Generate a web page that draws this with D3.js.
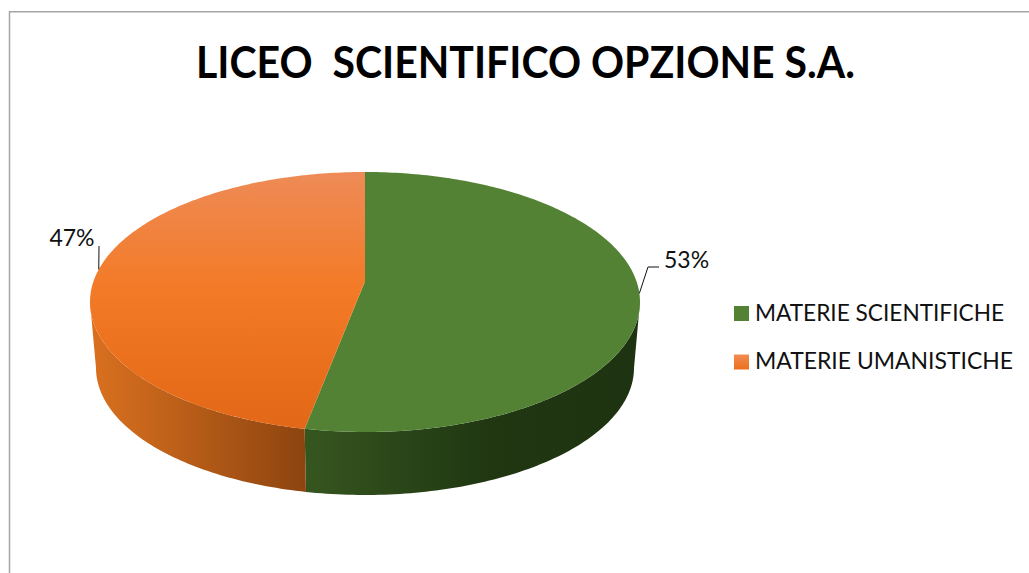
<!DOCTYPE html>
<html lang="it">
<head>
    <meta charset="UTF-8">
    <title>LICEO SCIENTIFICO OPZIONE S.A.</title>
    <script src="https://cdn.jsdelivr.net/npm/d3@7/dist/d3.min.js"></script>
    <style>
        body, html {
            margin: 0;
            padding: 0;
            background: #fff;
            overflow: hidden;
        }
        svg {
            display: block;
            font-family: Lato, "Open Sans", sans-serif;
        }
    </style>
</head>
<body>
    <svg id="mainsvg"></svg>
    <script>
        const chartTitle = "LICEO  SCIENTIFICO OPZIONE S.A.";
        const categories = ["MATERIE SCIENTIFICHE", "MATERIE UMANISTICHE"];
        const percents = [53, 47];

        const width = 1029;
        const height = 573;

        const svg = d3.select("#mainsvg")
            .attr("width", width)
            .attr("height", height)
            .attr("viewBox", `0 0 ${width} ${height}`);

        // cornice grigia, solo sopra e a sinistra come nel riferimento
        svg.append("path")
            .attr("d", `M9.5,${height} V11.8 H${width}`)
            .attr("fill", "none")
            .attr("stroke", "#a6a6a6")
            .attr("stroke-width", 1.5);

        const defs = svg.append("defs");

        function gradient(id, attrs, stops) {
            const g = defs.append("linearGradient").attr("id", id);
            Object.entries(attrs).forEach(([k, v]) => g.attr(k, v));
            g.selectAll("stop")
                .data(stops)
                .join("stop")
                .attr("offset", d => d[0])
                .attr("stop-color", d => d[1]);
        }

        gradient("orangeTop", {gradientUnits: "userSpaceOnUse", x1: 0, x2: 0, y1: 172, y2: 432},
            [[0, "#ee8b57"], [0.45, "#f37a26"], [1, "#e26716"]]);
        gradient("orangeSide", {gradientUnits: "userSpaceOnUse", x1: 91, x2: 305, y1: 0, y2: 0},
            [[0, "#d9701f"], [0.35, "#c0621a"], [1, "#8d440f"]]);
        gradient("greenSide", {gradientUnits: "userSpaceOnUse", x1: 304, x2: 640, y1: 0, y2: 0},
            [[0, "#36561f"], [0.55, "#203712"], [1, "#1e3311"]]);
        gradient("orangeKey", {x1: 0, x2: 0, y1: 0, y2: 1},
            [[0, "#f08c52"], [1, "#ec6f1c"]]);

        const topFills = ["#548235", "url(#orangeTop)"];
        const sideFills = ["url(#greenSide)", "url(#orangeSide)"];
        const keyFills = ["#548235", "url(#orangeKey)"];

        // piano superiore e inferiore del disco, con lieve prospettiva
        const topRim = {cx: 365, cy: 302, rx: 275, ry: 130};
        const bottomRim = {cx: 365, cy: 368, rx: 269, ry: 127};
        const tilt = -0.16;
        const squeeze = Math.sqrt(1 - tilt * tilt);

        function project(angle, rim) {
            const u = Math.sin(angle);
            const v = -Math.cos(angle);
            const w = 1 + tilt * v;
            return [rim.cx + rim.rx * squeeze * u / w, rim.cy + rim.ry * (v + tilt) / w];
        }

        function arcPoints(a0, a1, rim) {
            const n = Math.max(2, Math.ceil(Math.abs(a1 - a0) * 60));
            return d3.range(n + 1).map(i => project(a0 + (a1 - a0) * i / n, rim));
        }

        const pie = d3.pie().sort(null);
        const slices = pie(percents);
        const line = d3.line();

        // la parete si vede tra gli estremi destro e sinistro dell'ellisse
        const sideFrom = Math.acos(tilt);
        const sideTo = 2 * Math.PI - sideFrom;

        const sides = svg.append("g");
        slices.forEach((s, i) => {
            const a0 = Math.max(s.startAngle, sideFrom);
            const a1 = Math.min(s.endAngle, sideTo);
            if (a1 <= a0) return;
            sides.append("path")
                .attr("d", line(arcPoints(a0, a1, topRim).concat(arcPoints(a1, a0, bottomRim))) + "Z")
                .attr("fill", sideFills[i]);
        });

        const center = [topRim.cx, topRim.cy + topRim.ry * tilt];
        svg.append("g")
            .selectAll("path")
            .data(slices)
            .join("path")
            .attr("d", d => line([center].concat(arcPoints(d.startAngle, d.endAngle, topRim))) + "Z")
            .attr("fill", (d, i) => topFills[i]);

        // etichette con linee guida
        const labelLayout = [
            {elbow: [648, 267], end: [659, 267], x: 664, y: 268, anchor: "start"},
            {elbow: null, end: [99, 246], x: 94.5, y: 246, anchor: "end"}
        ];

        slices.forEach((s, i) => {
            const l = labelLayout[i];
            const start = project((s.startAngle + s.endAngle) / 2, topRim);
            const pts = l.elbow ? [start, l.elbow, l.end] : [start, l.end];
            svg.append("path")
                .attr("d", line(pts))
                .attr("fill", "none")
                .attr("stroke", "#111")
                .attr("stroke-width", 1);
            svg.append("text")
                .attr("x", l.x)
                .attr("y", l.y)
                .attr("text-anchor", l.anchor)
                .attr("font-size", 23)
                .attr("fill", "#111")
                .text(percents[i] + "%");
        });

        const legendY = d3.scalePoint().domain(categories).range([313.5, 362]);
        const legendTextWidths = [249, 258];

        const legend = svg.append("g")
            .selectAll("g")
            .data(categories)
            .join("g")
            .attr("transform", d => `translate(0,${legendY(d)})`);

        legend.append("rect")
            .attr("x", 734)
            .attr("y", -7.5)
            .attr("width", 15)
            .attr("height", 15)
            .attr("fill", (d, i) => keyFills[i]);

        legend.append("text")
            .attr("x", 755)
            .attr("y", 7)
            .attr("font-size", 23)
            .attr("fill", "#111")
            .attr("textLength", (d, i) => legendTextWidths[i])
            .attr("lengthAdjust", "spacingAndGlyphs")
            .text(d => d);

        svg.append("text")
            .attr("x", 196)
            .attr("y", 78)
            .attr("font-size", 43)
            .attr("font-weight", 700)
            .attr("fill", "#000")
            .attr("textLength", 659)
            .attr("lengthAdjust", "spacingAndGlyphs")
            .style("white-space", "pre")
            .text(chartTitle);
    </script>
</body>
</html>
